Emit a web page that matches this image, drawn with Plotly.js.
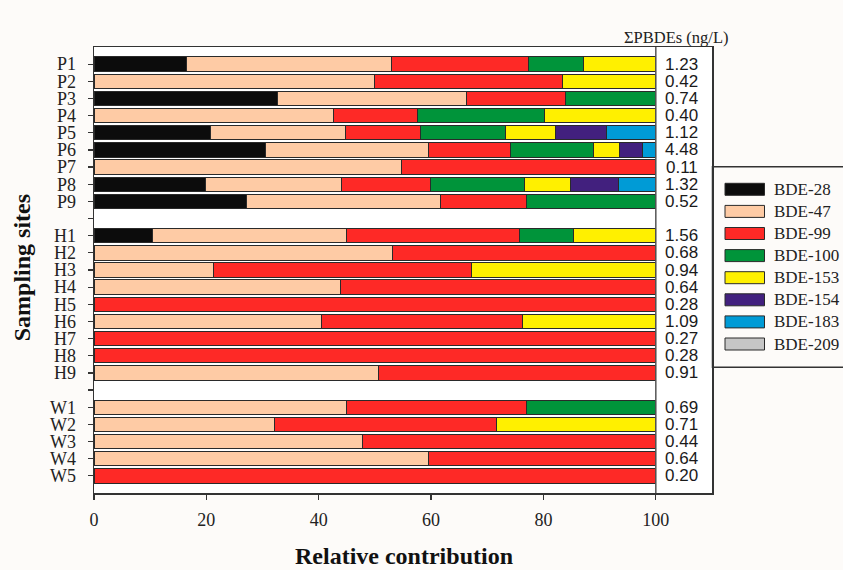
<!DOCTYPE html>
<html>
<head>
<meta charset="utf-8">
<script src="https://cdn.plot.ly/plotly-3.0.1.min.js"></script>
<style>
html,body{margin:0;padding:0;background:#fdfbf9;}
#chart{width:843px;height:570px;}
</style>
</head>
<body>
<div id="chart"></div>
<script>
// Rows top to bottom; null = spacer row between groups
const sites = ['P1','P2','P3','P4','P5','P6','P7','P8','P9', null,
               'H1','H2','H3','H4','H5','H6','H7','H8','H9', null,
               'W1','W2','W3','W4','W5'];

// Relative contribution (%) of each congener per site
const bde28  = [16.4, 0, 32.6, 0, 20.8, 30.6, 0, 19.8, 27.1, null,
                10.5, 0, 0, 0, 0, 0, 0, 0, 0, null,
                0, 0, 0, 0, 0];
const bde47  = [36.5, 50.0, 33.7, 42.6, 24.0, 29.0, 54.7, 24.3, 34.5, null,
                34.5, 53.1, 21.3, 43.9, 0, 40.5, 0, 0, 50.7, null,
                45.0, 32.2, 47.8, 59.5, 0];
const bde99  = [24.4, 33.4, 17.6, 15.0, 13.4, 14.6, 45.3, 15.8, 15.4, null,
                30.7, 46.9, 45.9, 56.1, 100, 35.8, 100, 100, 49.3, null,
                31.9, 39.5, 52.2, 40.5, 100];
const bde100 = [9.8, 0, 16.1, 22.5, 15.1, 14.7, 0, 16.7, 23.0, null,
                9.6, 0, 0, 0, 0, 0, 0, 0, 0, null,
                23.1, 0, 0, 0, 0];
const bde153 = [12.9, 16.6, 0, 19.9, 8.8, 4.7, 0, 8.3, 0, null,
                14.7, 0, 32.8, 0, 0, 23.7, 0, 0, 0, null,
                0, 28.3, 0, 0, 0];
const bde154 = [0, 0, 0, 0, 9.1, 4.1, 0, 8.5, 0, null,
                0, 0, 0, 0, 0, 0, 0, 0, 0, null,
                0, 0, 0, 0, 0];
const bde183 = [0, 0, 0, 0, 8.8, 2.3, 0, 6.6, 0, null,
                0, 0, 0, 0, 0, 0, 0, 0, 0, null,
                0, 0, 0, 0, 0];
const bde209 = [0, 0, 0, 0, 0, 0, 0, 0, 0, null,
                0, 0, 0, 0, 0, 0, 0, 0, 0, null,
                0, 0, 0, 0, 0];

// ΣPBDEs (ng/L)
const totals = ['1.23','0.42','0.74','0.40','1.12','4.48','0.11','1.32','0.52', null,
                '1.56','0.68','0.94','0.64','0.28','1.09','0.27','0.28','0.91', null,
                '0.69','0.71','0.44','0.64','0.20'];

const names  = ['BDE-28','BDE-47','BDE-99','BDE-100','BDE-153','BDE-154','BDE-183','BDE-209'];
const series = [bde28, bde47, bde99, bde100, bde153, bde154, bde183, bde209];
const colors = ['#0c0c0c','#fecba5','#fe2926','#00943a','#fff000','#42207e','#009bd6','#c6c6c6'];

const xTicks = [0, 20, 40, 60, 80, 100];

const rowPos = sites.map((s, i) => i);

const SERIF = 'Liberation Serif, Times New Roman, serif';
const SANS = 'Liberation Sans, Arial, sans-serif';

const traces = series.map((vals, k) => ({
  type: 'bar',
  orientation: 'h',
  name: names[k],
  y: rowPos,
  x: vals,
  width: 0.84,
  marker: {color: colors[k], line: {color: '#2a2a2a', width: 1}},
  showlegend: false,
  hoverinfo: 'x+name'
}));

const annotations = [];
sites.forEach((s, i) => {
  if (totals[i] !== null) {
    annotations.push({
      x: 104.6, y: i, xref: 'x', yref: 'y', text: totals[i], showarrow: false,
      font: {family: SANS, size: 17, color: '#1a1a1a'},
      xanchor: 'center', yanchor: 'middle'
    });
  }
});

// Custom legend (px geometry converted to paper coords)
const L = 94, W = 618, B = 492.7, H = 446;
const px2x = p => (p - L) / W;
const py2y = p => (B - p) / H;

const shapes = [
  {type: 'line', xref: 'x', yref: 'paper', x0: 100, x1: 100, y0: 0, y1: 1,
   line: {color: '#555555', width: 1.5}},
  {type: 'rect', xref: 'paper', yref: 'paper', x0: px2x(712.5), x1: px2x(900),
   y0: py2y(367), y1: py2y(166.5), line: {color: '#333333', width: 1.5}, fillcolor: 'rgba(0,0,0,0)'}
];
names.forEach((n, k) => {
  const cy = 189 + 22.1 * k;
  shapes.push({type: 'rect', xref: 'paper', yref: 'paper',
    x0: px2x(725), x1: px2x(764.5), y0: py2y(cy + 6), y1: py2y(cy - 6),
    fillcolor: colors[k], line: {color: '#2a2a2a', width: 1}});
  annotations.push({xref: 'paper', yref: 'paper', x: px2x(772), y: py2y(cy), text: n,
    showarrow: false, xanchor: 'left', yanchor: 'middle',
    font: {family: SERIF, size: 17, color: '#222222'}});
});

annotations.push({xref: 'paper', yref: 'paper', x: px2x(676), y: py2y(37), text: 'ΣPBDEs (ng/L)',
  showarrow: false, xanchor: 'center', yanchor: 'middle',
  font: {family: SERIF, size: 16.5, color: '#222222'}});
annotations.push({xref: 'paper', yref: 'paper', x: px2x(404), y: py2y(556), text: '<b>Relative contribution</b>',
  showarrow: false, xanchor: 'center', yanchor: 'middle',
  font: {family: SERIF, size: 24, color: '#111111'}});
annotations.push({xref: 'paper', yref: 'paper', x: px2x(22), y: py2y(268), text: '<b>Sampling sites</b>',
  showarrow: false, xanchor: 'center', yanchor: 'middle', textangle: -90,
  font: {family: SERIF, size: 24, color: '#111111'}});

const layout = {
  width: 843, height: 570,
  margin: {l: 94, r: 131, t: 47, b: 77.3, pad: 0},
  paper_bgcolor: '#fdfbf9',
  plot_bgcolor: '#ffffff',
  barmode: 'stack',
  showlegend: false,
  font: {family: SERIF, color: '#222222'},
  xaxis: {
    range: [0, 110], tickvals: xTicks, ticktext: xTicks.map(String),
    ticks: 'outside', ticklen: 5, tickwidth: 1.2, tickcolor: '#333',
    showline: true, mirror: true, linecolor: '#333333', linewidth: 1.5,
    showgrid: false, zeroline: false, ticklabelstandoff: 5,
    tickfont: {family: SERIF, size: 18, color: '#222'}
  },
  yaxis: {
    range: [25, -1], tickvals: rowPos, ticktext: sites.map(s => s === null ? '' : s),
    ticks: 'outside', ticklen: 5, tickwidth: 1.2, tickcolor: '#333',
    showline: true, mirror: true, linecolor: '#333333', linewidth: 1.5,
    showgrid: false, zeroline: false, ticklabelstandoff: 8,
    tickfont: {family: SERIF, size: 18, color: '#222'}
  },
  shapes: shapes,
  annotations: annotations
};

Plotly.newPlot('chart', traces, layout, {displayModeBar: false, staticPlot: true});
</script>
</body>
</html>
